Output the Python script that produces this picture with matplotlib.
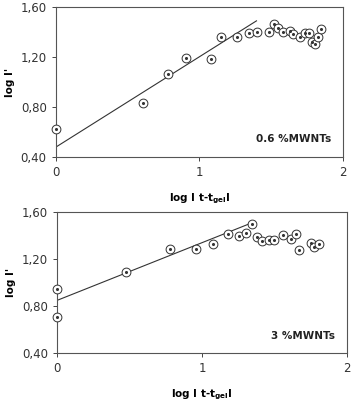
import matplotlib
matplotlib.use("Agg")
import matplotlib.pyplot as plt
import matplotlib.ticker as mticker

# Panel 1: 0.6 % MWNTs
x1 = [0.0, 0.605, 0.783, 0.906, 1.080, 1.147, 1.258, 1.346, 1.400, 1.481, 1.520,
      1.548, 1.583, 1.629, 1.648, 1.699, 1.734, 1.761, 1.780, 1.803, 1.826, 1.849]
y1 = [0.624, 0.835, 1.061, 1.192, 1.187, 1.360, 1.357, 1.395, 1.403, 1.397, 1.464,
      1.427, 1.400, 1.408, 1.387, 1.360, 1.392, 1.392, 1.320, 1.307, 1.360, 1.424]
fit1_x = [0.0, 1.397]
fit1_y = [0.48, 1.488]

# Panel 2: 3 % MWNTs
x2 = [0.0, 0.0, 0.475, 0.779, 0.956, 1.078, 1.177, 1.253, 1.304, 1.346, 1.378,
      1.415, 1.459, 1.493, 1.558, 1.615, 1.645, 1.666, 1.749, 1.774, 1.809]
y2 = [0.948, 0.706, 1.092, 1.288, 1.288, 1.330, 1.413, 1.393, 1.424, 1.500, 1.384,
      1.353, 1.359, 1.364, 1.404, 1.367, 1.410, 1.274, 1.336, 1.302, 1.328]
fit2_x = [0.0, 1.346]
fit2_y = [0.848, 1.51]

panels = [
    (x1, y1, fit1_x, fit1_y, "0.6 %MWNTs", [0.158, 0.608, 0.814, 0.375]),
    (x2, y2, fit2_x, fit2_y, "3 %MWNTs", [0.162, 0.120, 0.821, 0.351]),
]

fig = plt.figure(figsize=(3.53, 4.01), dpi=100)
xlabel = r"log I t-t$_{\mathbf{gel}}$I"

for xs, ys, fx, fy, tag, rect in panels:
    ax = fig.add_axes(rect)
    ax.plot(fx, fy, color="#333333", lw=0.8)
    ax.scatter(xs, ys, s=40, facecolors="white", edgecolors="#333333",
               linewidths=0.7, zorder=3, clip_on=False)
    ax.scatter(xs, ys, s=1.5, color="#333333", zorder=4, clip_on=False)
    ax.set_xlim(0, 2)
    ax.set_ylim(0.40, 1.60)
    ax.set_xticks([0, 1, 2])
    ax.set_yticks([0.40, 0.80, 1.20, 1.60])
    ax.yaxis.set_major_formatter(
        mticker.FuncFormatter(lambda v, _: f"{v:.2f}".replace(".", ",")))
    ax.tick_params(labelsize=8.5, length=3, width=0.7, color="#444444",
                   labelcolor="#333333")
    for s in ax.spines.values():
        s.set_color("#555555")
        s.set_linewidth(0.8)
    ax.set_ylabel("log I'", fontsize=7.5, fontweight="bold", labelpad=4)
    ax.set_xlabel(xlabel, fontsize=7.5, fontweight="bold", labelpad=9)
    ax.text(0.96, 0.12, tag, transform=ax.transAxes, ha="right", va="center",
            fontsize=7.5, fontweight="bold", color="#222222")

plt.savefig("out.png", dpi=100)
